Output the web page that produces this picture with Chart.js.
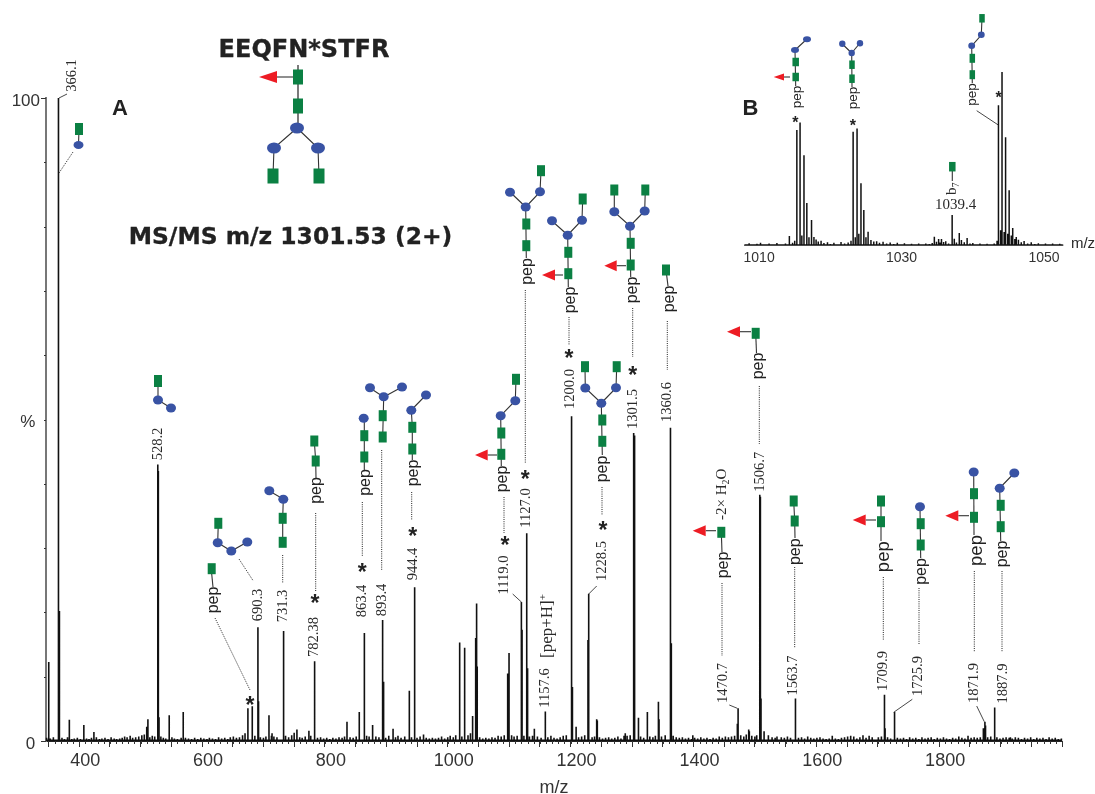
<!DOCTYPE html>
<html>
<head>
<meta charset="utf-8">
<title>MS/MS m/z 1301.53</title>
<script src="https://cdn.jsdelivr.net/npm/chart.js@4"></script>
<style>
body { margin: 0; background: #fff; }
#wrap { position: relative; width: 1095px; height: 794px; overflow: hidden; }
canvas { position: absolute; display: block; }
</style>
</head>
<body>
<div id="wrap">
<canvas id="mainChart" width="1095" height="794" style="left:0;top:0"></canvas>
<canvas id="insetChart" width="345" height="215" style="left:730px;top:60px"></canvas>
</div>
<script>
// panel A, tall sticks (m/z, intensity in %)
const peakMz = [
  350, 350.8, 366.3, 367.3, 368.2, 384, 407.6, 424, 510, 511.9, 528, 528.9, 530, 546.6, 569.4,
  674.7, 681.8, 691, 692, 709, 714, 732.2, 733.2, 750, 754.5, 774, 782.7, 783.7,
  836, 856, 863.7, 864.7, 877.7, 894, 895, 896, 911, 937.5, 945.6, 946.5, 961,
  1018.9, 1019.8, 1027, 1027.9, 1040.5, 1045.5, 1047, 1048, 1097, 1098, 1099.8, 1119.9, 1121, 1128, 1129, 1130,
  1141, 1158.9, 1201, 1202, 1203, 1209, 1228.3, 1229.5, 1242.5, 1243.5, 1289,
  1302.7, 1303.6, 1304.6, 1309.8, 1311, 1325, 1343, 1344, 1362, 1363, 1364, 1399,
  1471.5, 1472.7, 1490, 1491, 1508, 1509, 1510, 1515, 1522, 1536, 1565.5, 1566.5,
  1711, 1712, 1726.8, 1727.8, 1872, 1874.5, 1875.5, 1889.8, 1890.8, 1916
];
const peakIntensity = [
  4, 12.3, 100, 20.2, 4.5, 3.3, 2.5, 1.4, 2.2, 3.4, 43, 42, 3.7, 4, 4.5,
  5.1, 5.4, 17.7, 6.2, 4, 1.2, 17.1, 5.9, 1.3, 1.8, 1.6, 12.4, 5.3,
  3, 4.5, 16.8, 3.6, 2.5, 18.8, 9.2, 3.9, 1.9, 7.8, 23.9, 8, 1,
  15.3, 5, 14.5, 3, 3.9, 16, 21.4, 11.6, 10.5, 10, 13.7, 21.6, 17.3, 32.3, 31, 11.3,
  1.9, 4.6, 50.5, 50, 8.4, 2.2, 15.7, 22.9, 3.4, 3.2, 1.2,
  47.9, 47.5, 15, 3.6, 2.6, 4.5, 6.1, 3.4, 48.7, 48, 15.2, 0.9,
  2.7, 5.1, 1.8, 1.5, 38.3, 38, 6.6, 1.5, 0.9, 0.7, 6.6, 1,
  7.2, 2, 4.5, 1.5, 2, 3, 2.4, 5.2, 2.5, 0.6
];

// panel A, baseline grass [m/z, %]
const noiseSticks = [
  [347,.5],[353,.4],[358,.6],[372,.5],[376,.3],[381,.6],[388,.3],[392,.4],[397,.5],[402,.3],[412,.4],[416,.3],[420,.5],[428,.6],[433,.3],
  [437,.4],[442,.5],[447,.3],[452,.6],[457,.4],[461,.3],[466,.4],[470,.5],[474,.7],[478,.6],[483,.8],[487,.5],[492,.6],[497,.7],[502,.9],
  [506,1],[515,.6],[519,.8],[523,.7],[533,.7],[537,.5],[541,.4],[551,.6],[555,.4],[560,.3],[566,.5],[573,.5],[578,.4],[583,.3],[588,.5],
  [593,.3],[598,.5],[603,.4],[608,.3],[612,.5],[617,.4],[622,.3],[627,.6],[632,.4],[637,.5],[642,.3],[646,.6],[651,.7],[656,.5],[661,.6],
  [666,.9],[670,1.2],[686,.8],[695,.6],[700,.5],[704,.7],[713,.8],[717,.7],[722,.6],[736,.8],[741,.6],[746,.9],[759,.6],[763,.5],[768,.7],
  [777,.8],[788,.5],[793,.6],[798,.4],[803,.5],[808,.3],[813,.5],[818,.4],[823,.6],[828,.5],[832,.7],[841,.6],[846,.5],[851,.7],[868,.8],
  [872,.7],[883,.7],[888,.6],[899,.5],[904,.8],[915,.6],[919,.8],[924,.5],[930,.7],[941,.6],[950,.5],[955,.7],[960,.9],[965,.5],[970,.4],
  [975,.5],[980,.4],[985,.5],[990,.7],[995,.4],[1000,.6],[1004,.8],[1009,.6],[1013,.9],[1023,.7],[1033,.9],[1037,1.2],[1052,.6],[1057,.4],[1062,.5],
  [1067,.4],[1072,.6],[1077,.5],[1082,.8],[1087,.7],[1092,.9],[1104,.9],[1108,.7],[1113,.8],[1124,.8],[1133,.7],[1138,.8],[1146,.7],[1152,.5],[1163,.6],
  [1168,.8],[1173,.5],[1178,.4],[1183,.6],[1188,.8],[1193,.9],[1213,.6],[1218,.7],[1223,.9],[1235,.6],[1239,.7],[1247,.6],[1252,.4],[1257,.5],[1262,.6],
  [1267,.4],[1272,.5],[1277,.7],[1282,.4],[1287,.8],[1292,.8],[1297,.9],[1314,.7],[1319,.5],[1329,.7],[1334,.6],[1338,.8],[1348,.7],[1354,.9],[1367,.8],
  [1372,.6],[1377,.5],[1382,.6],[1387,.4],[1392,.5],[1397,.3],[1402,.5],[1407,.4],[1412,.6],[1417,.4],[1422,.5],[1427,.3],[1432,.5],[1437,.4],[1442,.7],
  [1447,.5],[1452,.7],[1457,.6],[1462,.7],[1467,.8],[1477,.9],[1482,.7],[1486,1],[1495,.8],[1500,.7],[1503,.9],[1528,.6],[1533,.5],[1543,.6],[1548,.5],
  [1553,.7],[1558,.5],[1571,.5],[1576,.6],[1581,.4],[1586,.7],[1591,.5],[1596,.4],[1601,.5],[1606,.6],[1611,.4],[1616,.3],[1621,.4],[1626,.8],[1631,.4],
  [1636,.3],[1641,.5],[1646,.6],[1651,.7],[1656,.8],[1661,.7],[1666,.4],[1671,.6],[1676,.9],[1681,.5],[1686,.8],[1691,.6],[1701,.6],[1706,.7],[1716,.6],
  [1721,.4],[1732,.5],[1737,.4],[1742,.5],[1747,.3],[1752,.6],[1757,.4],[1762,.5],[1767,.3],[1772,.6],[1777,.4],[1782,.5],[1787,.6],[1792,.3],[1797,.5],
  [1802,.4],[1807,.6],[1812,.4],[1817,.3],[1822,.5],[1827,.4],[1832,.7],[1837,.5],[1842,.4],[1847,.8],[1852,.5],[1857,.6],[1862,.5],[1867,.6],[1879,.6],
  [1884,.7],[1894,.6],[1899,.4],[1904,.5],[1909,.6],[1914,.5],[1919,.4],[1924,.6],[1929,.5],[1934,.3],[1939,.5],[1944,.4],[1949,.6],[1954,.3],[1959,.5],
  [1964,.4],[1969,.5],[1974,.3],[1979,.6],[1984,.4],[1989,.5],[1994,.3],[1999,.4]
];

// panel B, zoomed region
const insetMz = [
  1014.25, 1015.3, 1015.75, 1016.3, 1016.7, 1017.3, 1017.7,
  1023.2, 1023.75, 1024.3, 1024.7, 1025.3,
  1034.6, 1035.2, 1035.6, 1036.2, 1037.1, 1038.1, 1039.2,
  1043.6, 1044.1, 1044.6, 1045.1, 1045.6, 1046.1
];
const insetIntensity = [
  5.7, 66.6, 71, 52.2, 24.7, 14.9, 5.2,
  65.6, 67.5, 36, 20.7, 8.2,
  5.3, 4, 4, 2.8, 17.8, 7.5, 4.6,
  80.9, 100, 62.5, 32.1, 10.3, 5.2
];
const insetNoise = [
  [1008,.8],[1008.6,1.6],[1009.1,.7],[1009.7,1.3],[1010.2,1.9],[1010.9,.8],[1011.4,1.4],[1012,.7],[1012.5,1.7],[1013.1,1],[1013.7,1.5],
  [1014.7,1.8],[1015,3],[1016,6],[1017,5],[1017.4,4],[1018,3.8],[1018.3,2.6],[1018.7,3],[1019.1,1.7],[1019.6,2.2],[1020,1.2],[1020.5,1.8],[1021,1],
  [1021.5,2.3],[1022,1.4],[1022.5,2],[1022.9,3],[1023.5,5],[1024,7],[1025,5],[1025.7,3.4],[1026.1,2.6],[1026.5,2.8],[1026.9,1.9],[1027.4,2.4],[1027.9,1.4],
  [1028.4,2],[1028.9,1.1],[1029.4,1.8],[1029.9,1],[1030.4,1.6],[1030.9,.8],[1031.4,1.3],[1031.9,.9],[1032.4,1.4],[1032.9,.7],[1033.4,1.5],[1033.9,1.1],[1034.3,1.7],
  [1034.9,2.4],[1035.4,2],[1035.9,2.3],[1036.6,1.4],[1037.4,4.2],[1037.7,2],[1038.4,3.4],[1038.8,2.1],[1039.6,1.4],[1040,1.7],[1040.5,1],[1041,1.5],[1041.5,.9],
  [1042,1.3],[1042.5,.8],[1043,1.4],[1043.4,3],[1043.9,9],[1044.4,8],[1044.9,7],[1045.4,6],[1045.9,4],[1046.4,3.6],[1046.8,2.2],[1047.2,2.9],[1047.7,1.5],
  [1048.2,2.1],[1048.7,1.1],[1049.2,1.6],[1049.7,.9],[1050.2,1.4],[1050.7,.8],[1051.2,1.5],[1051.7,.9],[1052.2,1.3],[1052.6,.8]
];

const xMajorTicks = [350, 400, 450, 500, 550, 600, 650, 700, 750, 800, 850, 900, 950, 1000, 1050, 1100, 1150, 1200, 1250, 1300, 1350, 1400, 1450, 1500, 1550, 1600, 1650, 1700, 1750, 1800, 1850, 1900, 1950, 2000];
const xTickLabels = [400, 600, 800, 1000, 1200, 1400, 1600, 1800];
const yTicks = [0, 10, 20, 30, 40, 50, 60, 70, 80, 90, 100];
const insetTickLabels = [1010, 1030, 1050];

const GREEN = '#0b8043', BLUE = '#3953a4', RED = '#ed1c24', LINK = '#333';
const SERIF = '"Liberation Serif"', SANS = '"Liberation Sans"';

// turn sticks into one line path that drops back to the baseline each time
function stickLine(mz, intensity, noise, base) {
  const sticks = mz.map((m, i) => [m, intensity[i]]).concat(noise);
  sticks.sort((a, b) => a[0] - b[0]);
  const pts = [];
  sticks.forEach(s => {
    pts.push({x: s[0], y: base}, {x: s[0], y: s[1]}, {x: s[0], y: base});
  });
  return pts;
}

// little drawing helpers for the annotations
function sq(c, x, y, w, h) {
  w = w || 8; h = h || 11;
  c.fillStyle = GREEN;
  c.fillRect(x - w / 2, y - h / 2, w, h);
}
function dot(c, x, y, rx, ry) {
  c.fillStyle = BLUE;
  c.beginPath();
  c.ellipse(x, y, rx || 5, ry || 4.5, 0, 0, Math.PI * 2);
  c.fill();
}
function line(c, pts, w) {
  c.strokeStyle = LINK;
  c.lineWidth = w || 1.1;
  c.setLineDash([]);
  c.beginPath();
  pts.forEach((p, i) => i ? c.lineTo(p[0], p[1]) : c.moveTo(p[0], p[1]));
  c.stroke();
}
function dotted(c, pts) {
  c.strokeStyle = '#222';
  c.lineWidth = 1;
  c.setLineDash([1, 1.2]);
  c.beginPath();
  pts.forEach((p, i) => i ? c.lineTo(p[0], p[1]) : c.moveTo(p[0], p[1]));
  c.stroke();
  c.setLineDash([]);
}
function fuc(c, tipX, y, baseX, linkTo, half) {
  line(c, [[baseX, y], [linkTo, y]]);
  c.fillStyle = RED;
  c.beginPath();
  c.moveTo(tipX, y);
  c.lineTo(baseX, y - (half || 5.5));
  c.lineTo(baseX, y + (half || 5.5));
  c.closePath();
  c.fill();
}
function vtext(c, s, x, y, font, color) {
  c.save();
  c.translate(x, y);
  c.rotate(-Math.PI / 2);
  c.font = font || '14.5px ' + SERIF;
  c.fillStyle = color || '#2a2a2a';
  c.textAlign = 'center';
  c.textBaseline = 'middle';
  c.fillText(s, 0, 0);
  c.restore();
}
function pep(c, x, y, size) {
  vtext(c, 'pep', x, y, (size || 16) + 'px ' + SANS, '#222');
}
function star(c, x, y, size) {
  c.font = 'bold ' + (size || 23) + 'px ' + SANS;
  c.fillStyle = '#222';
  c.textAlign = 'left';
  c.textBaseline = 'alphabetic';
  const m = c.measureText('*');
  const ox = (m.actualBoundingBoxRight - m.actualBoundingBoxLeft) / 2;
  const oy = (m.actualBoundingBoxDescent - m.actualBoundingBoxAscent) / 2;
  c.fillText('*', x - ox, y - oy);
}
function htext(c, s, x, y, font, color, heavy) {
  c.font = font;
  c.fillStyle = color || '#222';
  c.textAlign = 'center';
  c.textBaseline = 'middle';
  c.fillText(s, x, y);
  if (heavy) {
    c.strokeStyle = c.fillStyle;
    c.lineWidth = heavy;
    c.strokeText(s, x, y);
  }
}
// rotated text with sub/superscript pieces, reading bottom to top from y
function vrich(c, x, y, parts, size) {
  c.save();
  c.translate(x, y);
  c.rotate(-Math.PI / 2);
  c.textAlign = 'left';
  c.textBaseline = 'middle';
  c.fillStyle = '#2a2a2a';
  let at = 0;
  parts.forEach(p => {
    const s = p.sub || p.sup ? size * 0.66 : size;
    c.font = s + 'px ' + SERIF;
    c.fillText(p.t, at, p.sub ? size * 0.3 : p.sup ? -size * 0.3 : 0);
    at += c.measureText(p.t).width;
  });
  c.restore();
}

const annotations = {
  id: 'annotations',
  afterDatasetsDraw(chart) {
    const c = chart.ctx;
    const xs = chart.scales.x, ys = chart.scales.y;
    c.save();

    // short ticks
    c.strokeStyle = '#333';
    c.lineWidth = 1;
    for (let v = 350; v <= 2000; v += 10) {
      const px = Math.round(xs.getPixelForValue(v)) + 0.5;
      c.beginPath(); c.moveTo(px, ys.bottom); c.lineTo(px, ys.bottom + 3); c.stroke();
    }
    yTicks.forEach(v => {
      const py = Math.round(ys.getPixelForValue(v)) + 0.5;
      c.beginPath(); c.moveTo(xs.left, py); c.lineTo(xs.left - 2, py); c.stroke();
    });

    // headings
    htext(c, 'EEQFN*STFR', 304, 51, 'bold 24px "DejaVu Sans"', '#222', 0.3);
    htext(c, 'MS/MS m/z 1301.53 (2+)', 290.5, 238, 'bold 23.4px "DejaVu Sans"', '#222', 0.3);
    htext(c, 'A', 120, 109, 'bold 22px ' + SANS);
    htext(c, 'B', 750.5, 109, 'bold 22px ' + SANS);

    // glycan under the heading
    line(c, [[298, 65], [298, 128]], 1.3);
    line(c, [[297, 128], [274, 148], [273, 176]]);
    line(c, [[297, 128], [318, 148], [319, 176]]);
    fuc(c, 259, 77, 277, 293, 6);
    sq(c, 298, 77, 10, 15); sq(c, 298, 106, 10, 15);
    dot(c, 297, 128, 7, 5.5); dot(c, 274, 148, 7, 5.5); dot(c, 318, 148, 7, 5.5);
    sq(c, 273, 176, 11, 15); sq(c, 319, 176, 11, 15);

    // 366.1
    vtext(c, '366.1', 72.5, 75.5);
    line(c, [[59, 98], [67, 94]], 0.9);
    line(c, [[79, 129], [78.5, 145]]);
    sq(c, 79, 129, 8, 12); dot(c, 78.5, 145, 5, 4);
    dotted(c, [[73, 152], [59, 173]]);

    // 528.2
    vtext(c, '528.2', 158, 444);
    line(c, [[158, 381], [158, 400], [171, 408]]);
    sq(c, 158, 381, 8, 12); dot(c, 158, 400); dot(c, 171, 408);

    // 690.3 and the pep star beside it
    vtext(c, '690.3', 258.5, 605);
    line(c, [[218.3, 523], [217.7, 542.7], [231.3, 551], [247.3, 542]]);
    sq(c, 218.3, 523.3); dot(c, 217.7, 542.7); dot(c, 231.3, 551); dot(c, 247.3, 542);
    dotted(c, [[239, 559], [253.3, 581]]);
    line(c, [[211.7, 574], [213, 587]]);
    sq(c, 211.7, 568.7); pep(c, 214, 600);
    dotted(c, [[215, 618], [250, 690]]);
    star(c, 250, 700);

    // 731.3
    vtext(c, '731.3', 282.7, 606);
    dotted(c, [[282.7, 555], [282.7, 583]]);
    line(c, [[282.7, 542], [282.7, 518], [283.3, 499], [269.3, 491]]);
    sq(c, 282.7, 542.3); sq(c, 282.7, 518.3); dot(c, 283.3, 499.3); dot(c, 269.3, 490.7);

    // 782.38
    vtext(c, '782.38', 314, 637);
    star(c, 315, 598.3);
    dotted(c, [[315.7, 513], [315.7, 592]]);
    line(c, [[314.3, 441], [315.7, 461], [316, 478]]);
    sq(c, 314.3, 441); sq(c, 315.7, 461); pep(c, 316.5, 490.5);

    // 863.4
    vtext(c, '863.4', 362, 601);
    star(c, 362.3, 567.3);
    dotted(c, [[362.3, 502], [362.3, 557]]);
    line(c, [[364.3, 470], [364.3, 418]]);
    sq(c, 364.3, 457); sq(c, 364.3, 435.7); dot(c, 363.7, 418.3); pep(c, 365.5, 482.5);

    // 893.4
    vtext(c, '893.4', 381.7, 600);
    dotted(c, [[381.7, 450], [381.7, 571]]);
    line(c, [[382.7, 437], [383.7, 397], [370, 388]]);
    line(c, [[383.7, 397], [402, 387]]);
    sq(c, 382.7, 437); sq(c, 382.7, 415.7); dot(c, 383.7, 396.7); dot(c, 370, 387.7); dot(c, 402, 387);

    // 944.4
    vtext(c, '944.4', 412.7, 564);
    star(c, 412.7, 531.7);
    dotted(c, [[411.7, 492], [411.7, 520]]);
    line(c, [[412.3, 460], [412.3, 427], [411.3, 410], [426, 395]]);
    sq(c, 412.3, 449); sq(c, 412.3, 427.3); dot(c, 411.3, 410.3); dot(c, 426, 395); pep(c, 413.5, 473);

    // 1119.0
    vtext(c, '1119.0', 504, 575);
    line(c, [[512.7, 594], [521.7, 602.3]], 0.9);
    star(c, 505, 540);
    dotted(c, [[504, 497], [504, 533]]);
    line(c, [[516, 379], [515.3, 400.7], [500.7, 415.7], [501.3, 466]]);
    fuc(c, 475, 455, 487.7, 497);
    sq(c, 516, 379.3); dot(c, 515.3, 400.7); dot(c, 500.7, 415.7); sq(c, 501.3, 433); sq(c, 501.3, 454.3);
    pep(c, 503, 479);

    // 1127.0
    vtext(c, '1127.0', 526, 508);
    star(c, 525.3, 474.3);
    dotted(c, [[525.3, 290], [525.3, 463]]);
    line(c, [[541, 171], [540, 192], [525.7, 207], [526.3, 258]]);
    line(c, [[525.7, 207], [510, 192]]);
    sq(c, 541, 170.7); dot(c, 540, 191.7); dot(c, 510, 192.3); dot(c, 525.7, 207);
    sq(c, 526.3, 224); sq(c, 526.3, 245.7); pep(c, 527.5, 271.5);

    // 1200.0
    vtext(c, '1200.0', 570, 389);
    star(c, 569, 353.3);
    dotted(c, [[569, 317], [569, 345]]);
    line(c, [[582.7, 199], [582, 220], [567.7, 235], [568.3, 287]]);
    line(c, [[567.7, 235], [552, 221]]);
    fuc(c, 542, 275, 555, 563);
    sq(c, 568.3, 273.7); sq(c, 568.3, 252.3); dot(c, 567.7, 235.3); dot(c, 552, 220.7); dot(c, 582, 220.3); sq(c, 582.7, 199);
    pep(c, 570.7, 300);

    // 1301.5
    vtext(c, '1301.5', 633.3, 409);
    star(c, 632.7, 370.7);
    dotted(c, [[632.7, 308], [632.7, 357]]);
    line(c, [[614.3, 190], [614.3, 212], [630, 226], [630.7, 277]]);
    line(c, [[645.3, 190], [644.7, 211], [630, 226]]);
    fuc(c, 604.3, 265.7, 616.7, 626);
    sq(c, 630.7, 265); sq(c, 630.7, 243.3); dot(c, 630, 226.3); dot(c, 614.3, 211.7); dot(c, 644.7, 211);
    sq(c, 614.3, 190); sq(c, 645.3, 190);
    pep(c, 632.7, 290);

    // 1360.6
    vtext(c, '1360.6', 667.3, 402);
    dotted(c, [[667.3, 321], [667.3, 370]]);
    line(c, [[666, 270], [668, 286]]);
    sq(c, 666, 270); pep(c, 669.3, 299);

    // 1228.5
    vtext(c, '1228.5', 602, 561);
    line(c, [[596.7, 586], [588.7, 594]], 0.9);
    star(c, 603, 525);
    dotted(c, [[602, 487], [602, 515]]);
    line(c, [[585, 367], [585.3, 388], [601.3, 403], [602.3, 455]]);
    line(c, [[616.7, 367], [616, 388], [601.3, 403]]);
    sq(c, 585, 366.7); sq(c, 616.7, 366.7); dot(c, 585.3, 388); dot(c, 616, 387.7); dot(c, 601.3, 403.3);
    sq(c, 602.3, 420); sq(c, 602.3, 441.3);
    pep(c, 603, 469);

    // [pep+H]+ and 1157.6
    vtext(c, '1157.6', 545, 688);
    vrich(c, 547.7, 658, [{t: '[pep+H]'}, {t: '+', sup: true}], 17);

    // 1470.7
    vtext(c, '1470.7', 723.3, 683);
    line(c, [[729.3, 705], [737.3, 708.3]], 0.9);
    dotted(c, [[722, 583], [722, 656]]);
    line(c, [[721.3, 532], [722, 552]]);
    fuc(c, 692.7, 530.7, 705.7, 716);
    sq(c, 721.3, 532.3);
    pep(c, 723.5, 565);
    vrich(c, 721.7, 520, [{t: '-2\u00d7 H'}, {t: '2', sub: true}, {t: 'O'}], 15);

    // 1506.7
    vtext(c, '1506.7', 760, 471.7);
    dotted(c, [[759.3, 386], [759.3, 444]]);
    line(c, [[755.7, 333], [756.5, 353]]);
    fuc(c, 727, 331.7, 740, 751);
    sq(c, 755.7, 333.3); pep(c, 758.3, 366);

    // 1563.7
    vtext(c, '1563.7', 793.5, 675.5);
    dotted(c, [[794.7, 567], [794.7, 648]]);
    line(c, [[793.7, 501], [794.7, 521], [795, 538]]);
    sq(c, 793.7, 501); sq(c, 794.7, 521); pep(c, 796, 551.7);

    // 1709.9
    vtext(c, '1709.9', 882.7, 671);
    dotted(c, [[883.3, 577], [883.3, 640]]);
    line(c, [[881, 501], [881, 541]]);
    fuc(c, 852.7, 520, 865.7, 876);
    sq(c, 881, 501); sq(c, 881, 521.7); pep(c, 884, 556.7, 18.5);

    // 1725.9
    vtext(c, '1725.9', 918.3, 676);
    line(c, [[912.3, 699.3], [893.7, 712.3]], 0.9);
    dotted(c, [[919, 588], [919, 645]]);
    line(c, [[920, 507], [920.7, 558]]);
    dot(c, 920, 506.7); sq(c, 920.7, 523.7); sq(c, 920.7, 545); pep(c, 922, 571.5);

    // 1871.9
    vtext(c, '1871.9', 974.3, 683);
    line(c, [[976.7, 706], [984.3, 721.7]], 0.9);
    dotted(c, [[974.3, 571], [974.3, 652]]);
    line(c, [[973.7, 472], [974, 535]]);
    fuc(c, 945.3, 515.7, 958.3, 969);
    dot(c, 973.7, 472); sq(c, 974, 493.7); sq(c, 974, 517.3); pep(c, 976.7, 550.5, 18.5);

    // 1887.9
    vtext(c, '1887.9', 1002.7, 683.5);
    dotted(c, [[1002, 571], [1002, 652]]);
    line(c, [[1014.3, 473], [999.7, 488], [1000.7, 541]]);
    dot(c, 1014.3, 473); dot(c, 999.7, 488.3); sq(c, 1000.7, 505.3); sq(c, 1000.7, 526.7); pep(c, 1002.7, 554);

    // inset glycans
    line(c, [[807, 39], [795, 50], [795.7, 86]]);
    fuc(c, 773.7, 77, 784, 790, 3.5);
    dot(c, 807, 39.3, 4, 3); dot(c, 795, 50, 4, 3); sq(c, 795.7, 62, 6.5, 8.5); sq(c, 795.7, 77, 6.5, 8.5);
    pep(c, 797, 97, 13.5);
    star(c, 795.7, 119.3, 16);

    line(c, [[842.3, 44], [851.7, 53], [852, 87]]);
    line(c, [[860, 43], [851.7, 53]]);
    dot(c, 842.3, 43.7, 3.2, 3.2); dot(c, 860, 43.3, 3.2, 3.2); dot(c, 851.7, 53, 3.2, 3.2);
    sq(c, 852, 64.7, 5.5, 8.5); sq(c, 852, 78.7, 5.5, 8.5);
    pep(c, 853.3, 98, 13.5);
    star(c, 853.3, 122.3, 16);

    line(c, [[982, 18], [981.3, 35], [971.7, 46], [972.3, 83]]);
    sq(c, 982, 18.3, 5.5, 8.5); dot(c, 981.3, 34.7, 3.4, 3.2); dot(c, 971.7, 45.7, 3.4, 3.2);
    sq(c, 972.3, 58.3, 5.5, 9); sq(c, 972.3, 74.7, 5.5, 9);
    pep(c, 972.7, 94.5, 13.5);
    star(c, 999, 94.3, 16);
    line(c, [[976.7, 110.7], [998.3, 125]], 0.9);

    line(c, [[952.3, 167], [952.3, 181]]);
    sq(c, 952.3, 166.7, 6.5, 9.5);
    vrich(c, 952, 195, [{t: 'b'}, {t: '7', sub: true}], 15);
    htext(c, '1039.4', 955.7, 205, '15px ' + SERIF, '#2a2a2a');
    htext(c, 'm/z', 1083, 244, '15px ' + SANS, '#2a2a2a');

    c.restore();
  }
};

new Chart(document.getElementById('mainChart'), {
  type: 'line',
  data: {
    datasets: [{
      data: stickLine(peakMz, peakIntensity, noiseSticks, 0.12),
      borderColor: '#111',
      borderWidth: 1.6,
      pointRadius: 0,
      tension: 0,
      clip: false
    }]
  },
  plugins: [annotations],
  options: {
    responsive: false,
    animation: false,
    parsing: false,
    layout: { padding: { left: 0, top: 98, right: 33, bottom: 0 } },
    plugins: { legend: { display: false }, tooltip: { enabled: false } },
    scales: {
      x: {
        type: 'linear',
        min: 346,
        max: 2000,
        afterFit(s) { s.height = 53; },
        afterBuildTicks(s) { s.ticks = xMajorTicks.map(v => ({ value: v })); },
        border: { color: '#222', width: 1 },
        grid: { drawOnChartArea: false, tickLength: 6, tickColor: '#333' },
        ticks: {
          autoSkip: false,
          maxRotation: 0,
          labelOffset: 6,
          padding: 3,
          color: '#333',
          font: { family: SANS, size: 18 },
          callback: v => xTickLabels.includes(v) ? String(v) : ''
        },
        title: { display: true, text: 'm/z', color: '#333', font: { family: SANS, size: 18 }, padding: { top: 0, bottom: -5 } }
      },
      y: {
        min: 0,
        max: 100,
        afterFit(s) { s.width = 46; },
        afterBuildTicks(s) { s.ticks = yTicks.map(v => ({ value: v })); },
        border: { color: '#777', width: 2 },
        grid: {
          drawOnChartArea: false,
          tickLength: 5,
          tickColor: ctx => (ctx.tick.value === 0 || ctx.tick.value === 100) ? '#333' : 'rgba(0,0,0,0)'
        },
        ticks: {
          autoSkip: false,
          padding: 1,
          labelOffset: 3,
          color: '#333',
          font: { family: SANS, size: 17 },
          callback: v => v === 100 ? '100' : v === 50 ? '% ' : v === 0 ? '0 ' : ''
        }
      }
    }
  }
});

new Chart(document.getElementById('insetChart'), {
  type: 'line',
  data: {
    datasets: [{
      data: stickLine(insetMz, insetIntensity, insetNoise, 0.6),
      borderColor: '#111',
      borderWidth: 1.5,
      pointRadius: 0,
      tension: 0,
      clip: false
    }]
  },
  options: {
    responsive: false,
    animation: false,
    parsing: false,
    layout: { padding: { left: 12, top: 12, right: 11, bottom: 0 } },
    plugins: { legend: { display: false }, tooltip: { enabled: false } },
    scales: {
      x: {
        type: 'linear',
        min: 1007.6,
        max: 1052.8,
        afterFit(s) { s.height = 29; },
        afterBuildTicks(s) { s.ticks = insetTickLabels.map(v => ({ value: v })); },
        border: { display: false },
        grid: { display: false },
        ticks: {
          autoSkip: false,
          maxRotation: 0,
          padding: -4,
          color: '#333',
          font: { family: SANS, size: 14 },
          callback: v => String(v)
        }
      },
      y: {
        display: false,
        min: 0,
        max: 100
      }
    }
  }
});
</script>
</body>
</html>
